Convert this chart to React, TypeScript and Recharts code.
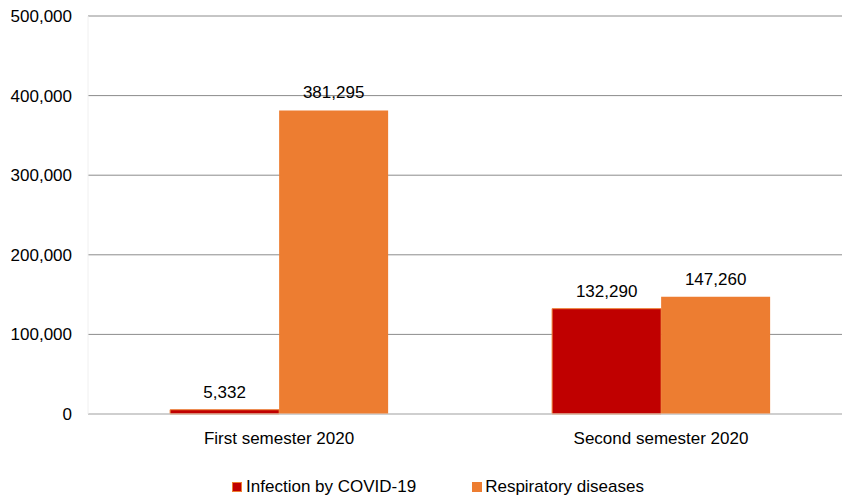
import React from "react";
import { BarChart, Bar, XAxis, YAxis, CartesianGrid, Legend, LabelList } from "recharts";

const semesters = ["First semester 2020", "Second semester 2020"];
const covidCases = [5332, 132290];
const respiratoryCases = [381295, 147260];
const yTicks = [0, 100000, 200000, 300000, 400000, 500000];

const RED = "#C00000";
const ORANGE = "#ED7D31";
const FONT = "'Liberation Sans', Arial, sans-serif";

const data = semesters.map((name, i) => ({
  name,
  covid: covidCases[i],
  respiratory: respiratoryCases[i],
}));

const fmt = (v: number) => v.toLocaleString("en-US");

// Legend with small square markers; the chart runs past the right edge, so offset it
const renderLegend = () => (
  <div style={{ display: "flex", justifyContent: "center", alignItems: "center", width: 842, paddingLeft: 34, paddingTop: 8, boxSizing: "border-box" }}>
    <span style={{ display: "flex", alignItems: "center", marginRight: 56 }}>
      <span style={{ width: 8, height: 8, background: RED, border: `1px solid ${ORANGE}`, marginRight: 4 }} />
      <span style={{ fontSize: 17, color: "#000" }}>Infection by COVID-19</span>
    </span>
    <span style={{ display: "flex", alignItems: "center" }}>
      <span style={{ width: 10, height: 10, background: ORANGE, marginRight: 3 }} />
      <span style={{ fontSize: 17, color: "#000" }}>Respiratory diseases</span>
    </span>
  </div>
);

export default function App() {
  return (
    <div style={{ position: "absolute", left: 0, top: 0, width: 842, height: 499, overflow: "hidden", background: "#fff", fontFamily: FONT }}>
      <BarChart
        width={856}
        height={499}
        data={data}
        margin={{ top: 16, right: 4, bottom: 0, left: 0 }}
        barCategoryGap="21.5%"
        barGap={0}
      >
        <CartesianGrid vertical={false} stroke="#8c8c8c" />
        <XAxis
          dataKey="name"
          height={55}
          tickLine={false}
          axisLine={{ stroke: "#d9d9d9" }}
          tickMargin={12}
          tick={{ fill: "#000", fontSize: 17, fontFamily: FONT }}
        />
        <YAxis
          width={88}
          domain={[0, 500000]}
          ticks={yTicks}
          tickFormatter={fmt}
          tickLine={false}
          tickSize={0}
          tickMargin={16}
          axisLine={{ stroke: "#f0f0f0" }}
          tick={{ fill: "#000", fontSize: 17, fontFamily: FONT }}
        />
        <Legend verticalAlign="bottom" align="left" height={30} content={renderLegend} />
        <Bar dataKey="covid" fill={RED} stroke={ORANGE} strokeWidth={1} isAnimationActive={false}>
          <LabelList dataKey="covid" position="top" offset={12} formatter={(v: any) => fmt(Number(v))} style={{ fill: "#000", fontSize: 17, fontFamily: FONT }} />
        </Bar>
        <Bar dataKey="respiratory" fill={ORANGE} isAnimationActive={false}>
          <LabelList dataKey="respiratory" position="top" offset={12} formatter={(v: any) => fmt(Number(v))} style={{ fill: "#000", fontSize: 17, fontFamily: FONT }} />
        </Bar>
      </BarChart>
    </div>
  );
}
